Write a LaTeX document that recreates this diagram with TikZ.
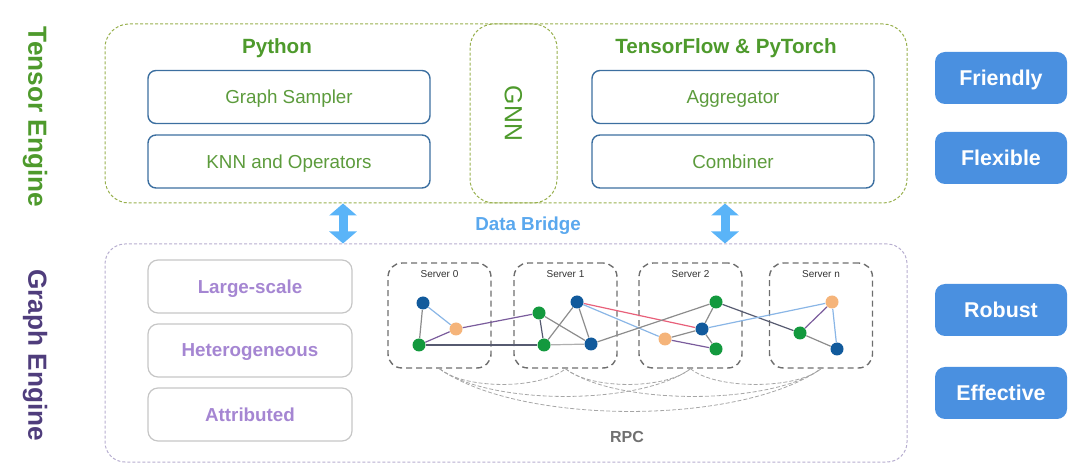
\documentclass[tikz,border=0pt]{standalone}
\usepackage{fontspec}
\setmainfont{Liberation Sans}
\usetikzlibrary{arrows.meta}

\definecolor{tgreen}{HTML}{4E9A2C}
\definecolor{lgreen}{HTML}{5C9B3C}
\definecolor{tline}{HTML}{98B04E}
\definecolor{boxblue}{HTML}{3C6FA0}
\definecolor{btnblue}{HTML}{4A90E0}
\definecolor{brtext}{HTML}{5AA8EE}
\definecolor{brfill}{HTML}{5AB4F8}
\definecolor{gpurple}{HTML}{4F3D7C}
\definecolor{lav}{HTML}{A586D2}
\definecolor{featline}{HTML}{C6C6C6}
\definecolor{gline}{HTML}{B7AED0}
\definecolor{srvline}{HTML}{6E6E6E}
\definecolor{nblue}{HTML}{115A9C}
\definecolor{ngreen}{HTML}{13993E}
\definecolor{norange}{HTML}{F5B47A}
\definecolor{egray}{HTML}{8C8C8C}
\definecolor{edark}{HTML}{565A70}
\definecolor{epurple}{HTML}{7A5C9C}
\definecolor{elblue}{HTML}{8AB6E6}
\definecolor{ered}{HTML}{E8607A}
\definecolor{rpcgray}{HTML}{707070}

\begin{document}
\begin{tikzpicture}[x=0.5pt, y=-0.5pt,
        side/.style={rotate=-90, font=\fontsize{13.1}{15}\selectfont\bfseries},
        hd/.style={font=\fontsize{10.3}{12}\selectfont\bfseries, text=tgreen},
        tbox/.style={draw=tline, dash pattern=on 1.5pt off 1pt, line width=0.5pt,
            rounded corners=12pt, minimum width=401pt, minimum height=89.5pt},
        gbox/.style={tbox, draw=gline, minimum height=109pt, rounded corners=10pt},
        gnnbox/.style={tbox, rotate=-90, minimum width=89.5pt, minimum height=43.5pt,
            font=\fontsize{12.4}{14}\selectfont, text=tgreen},
        inbox/.style={draw=boxblue, line width=0.7pt, rounded corners=4pt,
            minimum width=141pt, minimum height=26.5pt, inner sep=0pt, text depth=0pt,
            font=\fontsize{9.4}{11}\selectfont, text=lgreen},
        feat/.style={draw=featline, line width=0.6pt, rounded corners=5pt,
            minimum width=102pt, minimum height=26.5pt, inner sep=0pt, text depth=0pt,
            font=\fontsize{9.4}{11}\selectfont\bfseries, text=lav},
        btn/.style={fill=btnblue, rounded corners=5pt, minimum width=66pt,
            minimum height=26pt, inner sep=0pt, text depth=0pt,
            font=\fontsize{10.7}{12}\selectfont\bfseries, text=white},
        bridge/.style={draw=brfill, line width=4.5pt,
            {Triangle[width=13.5pt,length=6pt]}-{Triangle[width=13.5pt,length=6pt]}},
        srv/.style={draw=srvline, line width=0.7pt, dash pattern=on 3pt off 2pt,
            rounded corners=7pt, minimum width=51.5pt, minimum height=52.5pt},
        srvlab/.style={font=\fontsize{5}{6}\selectfont, text=black!80, inner sep=0pt},
        vx/.style={circle, minimum size=6.5pt, inner sep=0pt},
        vb/.style={vx, fill=nblue},
        vg/.style={vx, fill=ngreen},
        vo/.style={vx, fill=norange},
        ed/.style={line width=0.6pt},
        rpc/.style={draw=gray!70, line width=0.4pt, dash pattern=on 2pt off 1pt}
    ]

    \useasboundingbox (0,0) rectangle (1080,469);

    % tensor engine
    \node[side, text=tgreen] (te) at (35,117) {Tensor Engine};
    \node[tbox] (tensor) at (506,113.5) {};
    \node[gnnbox] (gnn) at (513.5,113.5) {GNN};
    \node[hd] (py) at (277,48) {Python};
    \node[hd] (tf) at (726,48) {TensorFlow \& PyTorch};
    \node[inbox] (gs) at (289,97) {Graph Sampler};
    \node[inbox] (knn) at (289,161.5) {KNN and Operators};
    \node[inbox] (ag) at (733,97) {Aggregator};
    \node[inbox] (cb) at (733,161.5) {Combiner};

    % graph engine
    \node[side, text=gpurple] (ge) at (35,355) {Graph Engine};
    \node[gbox] (graph) at (506,353) {};
    \node[feat] (ls) at (250,286.5) {Large-scale};
    \node[feat] (het) at (250,350.5) {Heterogeneous};
    \node[feat] (att) at (250,414.5) {Attributed};

    % data bridge
    \coordinate (brl) at (343,0);
    \coordinate (brr) at (725,0);
    \draw[bridge] (tensor.south -| brl) -- (graph.north -| brl);
    \draw[bridge] (tensor.south -| brr) -- (graph.north -| brr);
    \node[font=\fontsize{9.4}{11}\selectfont\bfseries, text=brtext] (db) at (528,226) {Data Bridge};

    % servers
    \foreach \n/\x/\t in {s0/439.5/0, s1/565.5/1, s2/690.5/2, sn/821/n}{
        \node[srv] (\n) at (\x,315.5) {};
        \node[srvlab] (l\n) at (\x,274) {Server \t};
    }

    \foreach \n/\x/\y/\s in {b0/423/303/vb, o0/456/329/vo, g0/419/345/vg,
        g1a/539/313/vg, b1a/577/302/vb, g1b/544/345/vg, b1b/591/344/vb,
        g2a/716/302/vg, b2/702/329/vb, o2/665/339/vo, g2b/716/349/vg,
        on/832/302/vo, gn/800/333/vg, bn/837/349/vb}{
        \node[\s] (\n) at (\x,\y) {};
    }

    \foreach \a/\b/\c in {b0/o0/elblue, b0/g0/egray, g0/o0/epurple, o0/g1a/epurple,
        g0/g1b/edark, g1a/g1b/edark, g1a/b1b/egray, g1b/b1a/egray, b1a/b1b/egray,
        g1b/b1b/egray!70, b1a/b2/ered, b1a/o2/elblue, b1b/g2a/egray,
        g2a/b2/egray, b2/o2/egray, b2/g2b/egray, o2/g2b/epurple, g2a/gn/edark,
        b2/on/elblue, on/gn/epurple, on/bn/elblue, gn/bn/egray}{
        \draw[ed, draw=\c] (\a) -- (\b);
    }

    % rpc
    \draw[rpc] (s0.south) .. controls +(25,21) and +(-25,21) .. (s1.south);
    \draw[rpc] (s1.south) .. controls +(25,21) and +(-25,21) .. (s2.south);
    \draw[rpc] (s2.south) .. controls +(25,21) and +(-25,21) .. (sn.south);
    \draw[rpc] (s0.south) .. controls +(50,37) and +(-50,37) .. (s2.south);
    \draw[rpc] (s1.south) .. controls +(50,37) and +(-50,37) .. (sn.south);
    \draw[rpc] (s0.south) .. controls +(80,57) and +(-80,57) .. (sn.south);
    \node[font=\fontsize{8}{10}\selectfont\bfseries, text=rpcgray] (rpclab) at (627,437) {RPC};

    % features
    \node[btn] (fr) at (1001,78) {Friendly};
    \node[btn] (fl) at (1001,158) {Flexible};
    \node[btn] (rb) at (1001,310) {Robust};
    \node[btn] (ef) at (1001,393) {Effective};
\end{tikzpicture}
\end{document}
